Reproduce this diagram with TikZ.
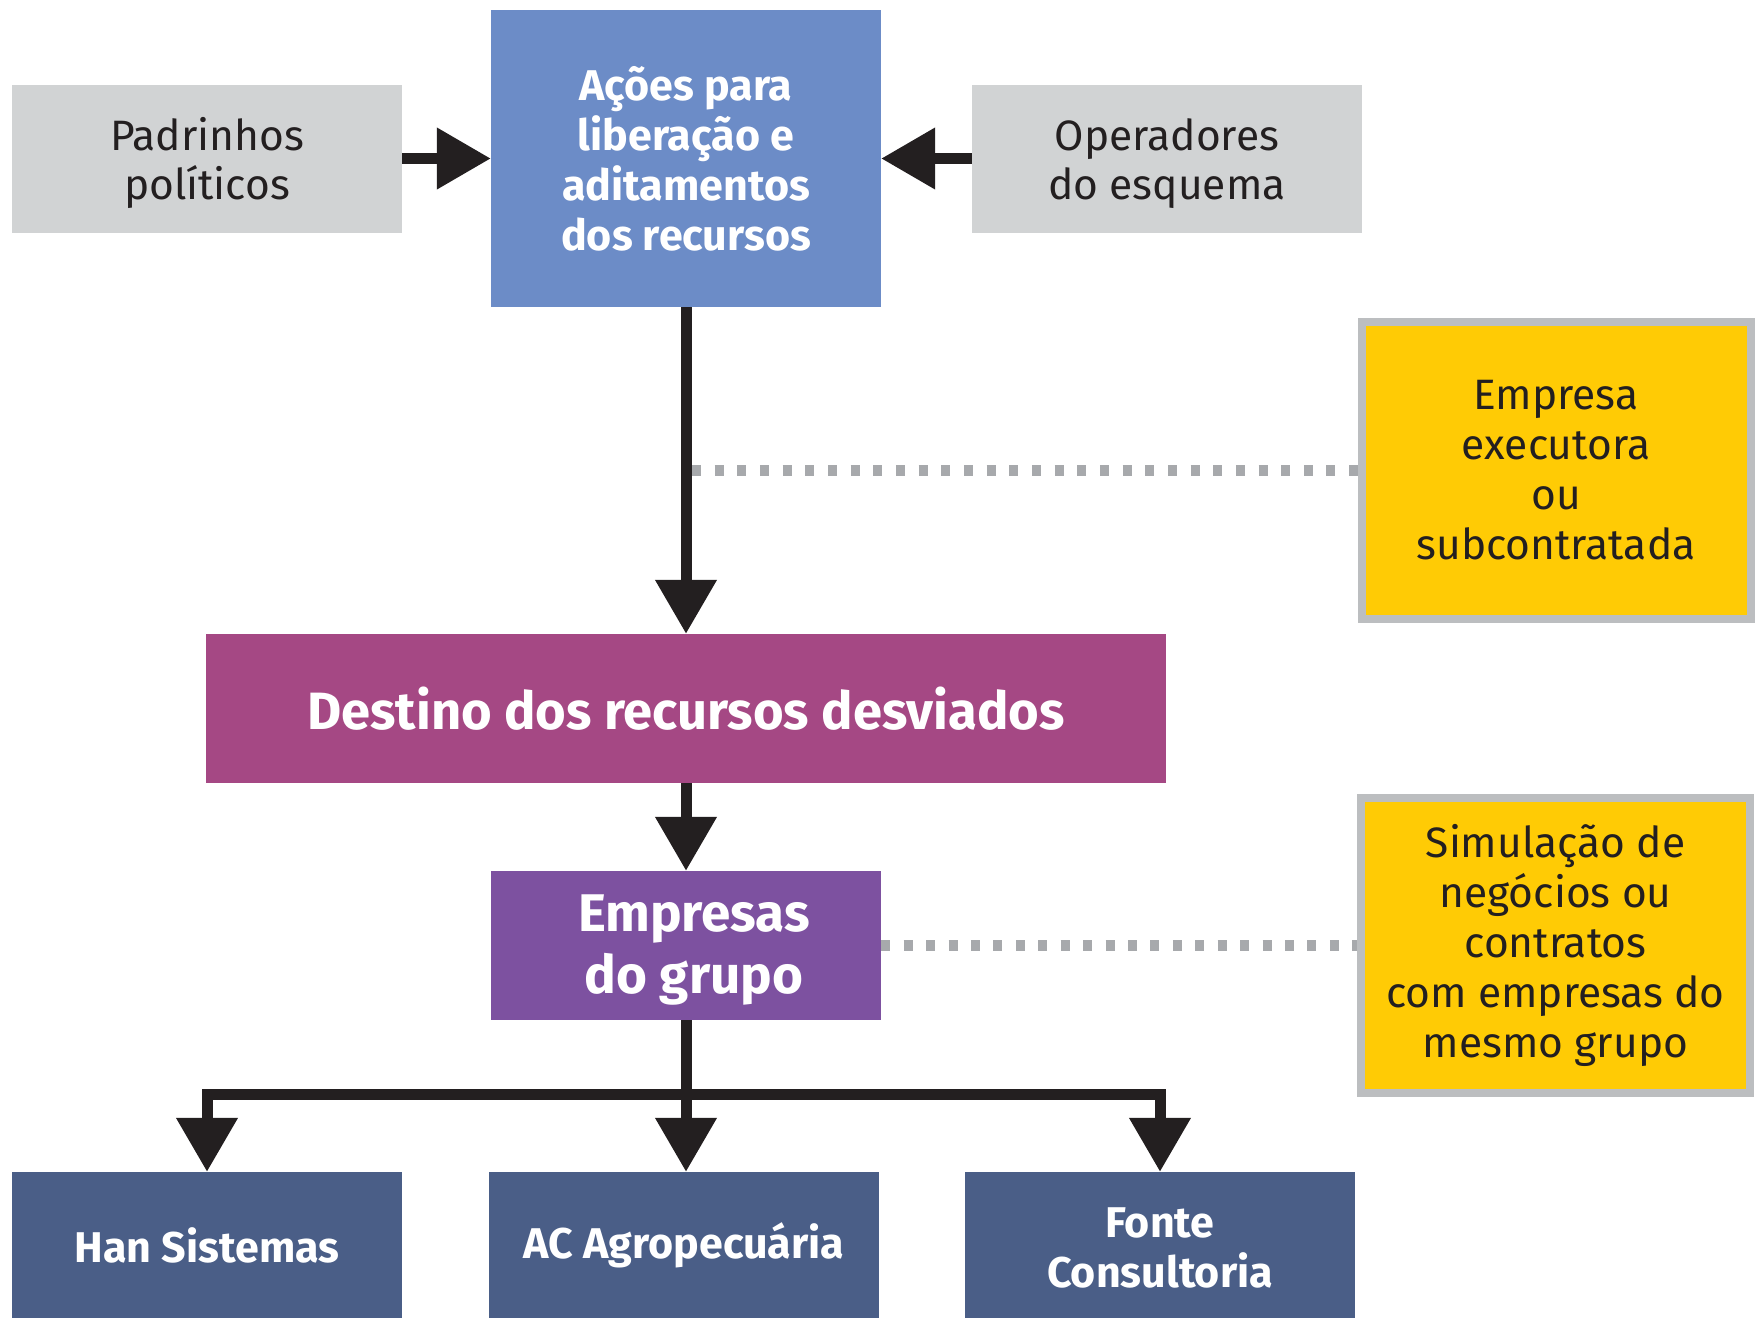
\documentclass[tikz,border=0pt]{standalone}
\usepackage{fontspec}
\setmainfont{Fira Sans}
\usetikzlibrary{arrows.meta}
\definecolor{txt}{HTML}{231F20}
\definecolor{graybox}{HTML}{D1D3D4}
\definecolor{bluebox}{HTML}{6C8CC7}
\definecolor{magbox}{HTML}{A54884}
\definecolor{purpbox}{HTML}{7D51A0}
\definecolor{navybox}{HTML}{4A5E87}
\definecolor{yelbox}{HTML}{FFCB05}
\definecolor{yelborder}{HTML}{BCBEC0}
\definecolor{dotgray}{HTML}{A7A9AC}
\newcommand{\topstrut}[1]{\rule{0pt}{#1}}
\tikzset{
  box/.style={rectangle, inner sep=0pt, align=center},
  graynode/.style={box, fill=graybox, text=txt, minimum width=390pt, minimum height=148pt,
    font=\fontsize{42.5}{49}\selectfont},
  whitebold/.style={box, text=white, font=\bfseries\fontsize{43}{50}\selectfont},
  yelnode/.style={box, fill=yelbox, draw=yelborder, line width=8pt, text=txt,
    minimum width=389pt, font=\fontsize{42.5}{50}\selectfont},
  bottomnode/.style={whitebold, fill=navybox, minimum width=390pt, minimum height=146pt},
  arr/.style={draw=txt, line width=11pt, -{Triangle[length=54pt,width=59pt]}},
  plain/.style={draw=txt, line width=11pt},
  dotline/.style={draw=dotgray, line width=11pt, dash pattern=on 9pt off 13.6pt}
}
\begin{document}
\begin{tikzpicture}[x=1pt,y=-1pt]
\useasboundingbox (0,0) rectangle (1759,1318);
% top row
\node[graynode] (pad) at (207,158.5) {\topstrut{43pt}Padrinhos\\políticos};
\node[whitebold, fill=bluebox, minimum width=390pt, minimum height=297pt] (acoes) at (686,158.5)
  {Ações para\\liberação e\\aditamentos\\dos recursos};
\node[graynode] (oper) at (1167,158.5) {\topstrut{43pt}Operadores\\do esquema};
% middle
\node[whitebold, fill=magbox, minimum width=960pt, minimum height=149pt,
  font=\bfseries\fontsize{52.5}{60}\selectfont] (dest) at (686,708.5) {Destino dos recursos desviados};
\node[whitebold, fill=purpbox, minimum width=390pt, minimum height=149pt,
  font=\bfseries\fontsize{53}{62}\selectfont] (emp) at (686,945.5)
  {\hspace*{16pt}\topstrut{46pt}Empresas\\\hspace*{16pt}do grupo};
% yellow boxes
\node[yelnode, minimum height=297pt] (yb1) at (1556,470.5) {Empresa\\executora\\ou\\subcontratada};
\node[yelnode, minimum height=295pt] (yb2) at (1555.5,945.5) {Simulação de\\negócios ou\\contratos\\com empresas do\\mesmo grupo};
% bottom
\node[bottomnode] (han) at (207,1245) {Han Sistemas};
\node[bottomnode] (ac) at (684,1245) {AC Agropecuária};
\node[bottomnode] (fonte) at (1160,1245) {\topstrut{36pt}Fonte\\Consultoria};
% dotted connectors
\coordinate (d1) at (692,470.5);
\draw[dotline, dash pattern=on 9pt off 13.66pt] (d1) -- (yb1.west);
\draw[dotline, dash pattern=on 9pt off 13.43pt] (emp.east) -- (yb2.west);
% arrows
\draw[arr] (pad.east) -- (acoes.west);
\draw[arr] (oper.west) -- (acoes.east);
\draw[arr] (acoes.south) -- (dest.north);
\draw[arr] (dest.south) -- (emp.north);
\coordinate (br) at (686,1094);
\draw[plain] (emp.south) -- (br);
\draw[arr] (br) -| (han.north);
\draw[arr] (br) -| (fonte.north);
\draw[arr] (br) -- (br |- ac.north);
\end{tikzpicture}
\end{document}
